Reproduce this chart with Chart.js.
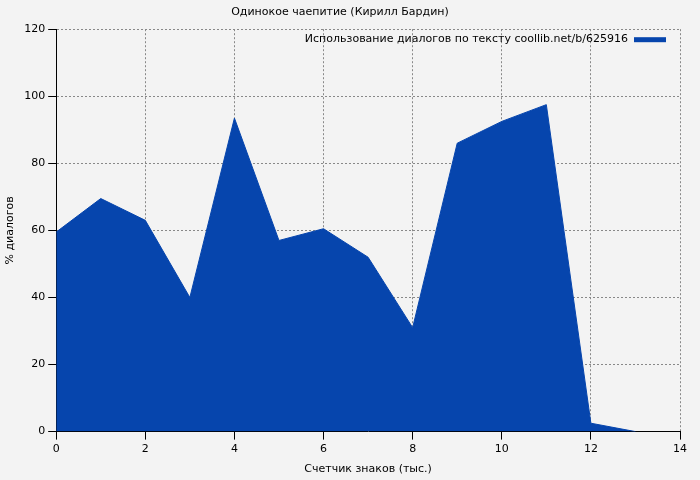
<!DOCTYPE html>
<html>
<head>
<meta charset="utf-8">
<script src="https://cdn.jsdelivr.net/npm/chart.js@4"></script>
<style>
  body { margin: 0; background: #f3f3f3; }
</style>
</head>
<body>
<canvas id="chart" width="700" height="480"></canvas>
<script>
const xValues = [0, 1, 2, 3, 4, 5, 6, 7, 8, 9, 10, 11, 12, 13];
const dialogPercent = [59.5, 69.5, 63, 40, 93.5, 57, 60.5, 52, 31, 86, 92.5, 97.5, 2.5, 0];
const seriesLabel = 'Использование диалогов по тексту coollib.net/b/625916';

// legend drawn inside the plot, top right
const innerLegend = {
    id: 'innerLegend',
    afterDraw(chart) {
        const ctx = chart.ctx;
        const area = chart.chartArea;
        ctx.save();
        ctx.font = '11px "DejaVu Sans"';
        ctx.fillStyle = '#000';
        ctx.textAlign = 'right';
        ctx.textBaseline = 'middle';
        const y = area.top + 10;
        ctx.fillText(seriesLabel, area.right - 52, y);
        ctx.fillStyle = '#0645ad';
        ctx.fillRect(area.right - 46, y - 2, 32, 5);
        ctx.restore();
    }
};

new Chart(document.getElementById('chart').getContext('2d'), {
    type: 'line',
    data: {
        datasets: [{
            label: seriesLabel,
            data: xValues.map((x, i) => ({ x: x, y: dialogPercent[i] })),
            borderColor: '#0645ad',
            backgroundColor: '#0645ad',
            borderWidth: 1,
            pointRadius: 0,
            fill: 'origin',
            tension: 0
        }]
    },
    options: {
        responsive: false,
        animation: false,
        devicePixelRatio: 1,
        layout: { padding: { right: 20 } },
        plugins: {
            legend: { display: false },
            title: {
                display: true,
                text: 'Одинокое чаепитие (Кирилл Бардин)',
                color: '#000',
                font: { family: 'DejaVu Sans', size: 11, weight: 'normal' },
                padding: { top: 6, bottom: 10 }
            }
        },
        scales: {
            x: {
                type: 'linear',
                min: 0,
                max: 14,
                ticks: { stepSize: 2, color: '#000', font: { family: 'DejaVu Sans', size: 11 } },
                grid: { color: '#888', tickColor: '#000' },
                border: { color: '#000', dash: [2, 2] },
                title: { display: true, text: 'Счетчик знаков (тыс.)', color: '#000', font: { family: 'DejaVu Sans', size: 11 } }
            },
            y: {
                min: 0,
                max: 120,
                ticks: { stepSize: 20, color: '#000', font: { family: 'DejaVu Sans', size: 11 } },
                grid: { color: '#888', tickColor: '#000' },
                border: { color: '#000', dash: [2, 2] },
                title: { display: true, text: '% диалогов', color: '#000', font: { family: 'DejaVu Sans', size: 11 } }
            }
        }
    },
    plugins: [innerLegend]
});
</script>
</body>
</html>
